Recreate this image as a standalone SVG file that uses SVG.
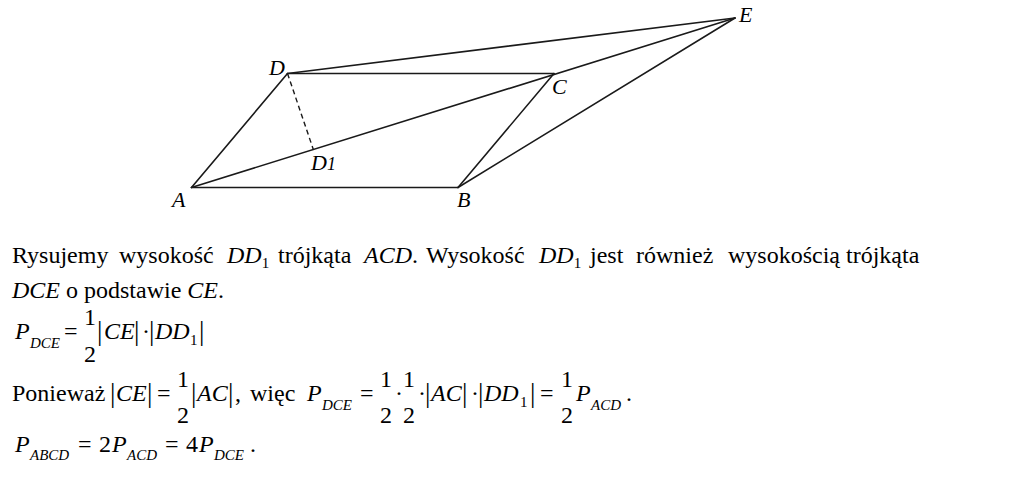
<svg xmlns="http://www.w3.org/2000/svg" width="1026" height="479" viewBox="0 0 1026 479">
<rect width="1026" height="479" fill="#ffffff"/>
<g id="connectors" stroke="#1a1a1a" stroke-width="1.6" fill="none" stroke-linecap="round">
  <line x1="191.5" y1="187.5" x2="458" y2="187.5"/>
  <line x1="191.5" y1="187.5" x2="287.5" y2="73.5"/>
  <line x1="287.5" y1="73.5" x2="554" y2="73.5"/>
  <line x1="458" y1="187.5" x2="554" y2="73.5"/>
  <line x1="191.5" y1="187.5" x2="735" y2="18"/>
  <line x1="287.5" y1="73.5" x2="735" y2="18"/>
  <line x1="458" y1="187.5" x2="735" y2="18"/>
  <line x1="287.5" y1="73.5" x2="313.5" y2="150" stroke-width="1.4" stroke-dasharray="5 3.5" stroke-linecap="butt"/>
</g>
<g id="node-A"><text font-family="Liberation Serif" font-style="italic" font-size="22" x="172" y="207">A</text></g>
<g id="node-B"><text font-family="Liberation Serif" font-style="italic" font-size="22" x="457" y="207">B</text></g>
<g id="node-C"><text font-family="Liberation Serif" font-style="italic" font-size="22" x="552" y="94">C</text></g>
<g id="node-D"><text font-family="Liberation Serif" font-style="italic" font-size="22" x="269" y="75">D</text></g>
<g id="node-E"><text font-family="Liberation Serif" font-style="italic" font-size="22" x="739" y="22">E</text></g>
<g id="node-D1"><text font-family="Liberation Serif" font-style="italic" font-size="22" x="311" y="170">D<tspan font-size="18">1</tspan></text></g>
<g id="text-line1">
  <text font-family="Liberation Serif" font-size="24" x="12" y="263">Rysujemy</text>
  <text font-family="Liberation Serif" font-size="24" x="119" y="263">wysokość</text>
  <text font-family="Liberation Serif" font-size="24" x="227" y="263"><tspan font-style="italic">DD</tspan><tspan font-size="15" dy="5">1</tspan></text>
  <text font-family="Liberation Serif" font-size="24" x="278" y="263">trójkąta</text>
  <text font-family="Liberation Serif" font-size="24" x="364" y="263"><tspan font-style="italic">ACD</tspan>.</text>
  <text font-family="Liberation Serif" font-size="24" x="426" y="263">Wysokość</text>
  <text font-family="Liberation Serif" font-size="24" x="539" y="263"><tspan font-style="italic">DD</tspan><tspan font-size="15" dy="5">1</tspan></text>
  <text font-family="Liberation Serif" font-size="24" x="590" y="263">jest</text>
  <text font-family="Liberation Serif" font-size="24" x="636" y="263">również</text>
  <text font-family="Liberation Serif" font-size="24" x="728" y="263">wysokością</text>
  <text font-family="Liberation Serif" font-size="24" x="846" y="263">trójkąta</text>
</g>
<g id="text-line2">
  <text font-family="Liberation Serif" font-size="24" x="12" y="298"><tspan font-style="italic">DCE</tspan> o podstawie <tspan font-style="italic">CE</tspan>.</text>
</g>
<g id="formula-1">
  <text font-family="Liberation Serif" font-size="24" font-style="italic" x="15" y="339">P</text>
  <text font-family="Liberation Serif" font-size="15" font-style="italic" x="30" y="348">DCE</text>
  <text font-family="Liberation Serif" font-size="24" x="64" y="339">=</text>
  <text font-family="Liberation Serif" font-size="24" x="84" y="325">1</text>
  <text font-family="Liberation Serif" font-size="24" x="84" y="362">2</text>
  <text font-family="Liberation Serif" font-size="27" x="97" y="340">|</text>
  <text font-family="Liberation Serif" font-size="24" font-style="italic" x="104" y="339">CE</text>
  <text font-family="Liberation Serif" font-size="27" x="134" y="340">|</text>
  <text font-family="Liberation Serif" font-size="24" x="142" y="339">·</text>
  <text font-family="Liberation Serif" font-size="27" x="149" y="340">|</text>
  <text font-family="Liberation Serif" font-size="24" font-style="italic" x="155" y="339">DD</text>
  <text font-family="Liberation Serif" font-size="15" x="190" y="345">1</text>
  <text font-family="Liberation Serif" font-size="27" x="199" y="340">|</text>
</g>
<g id="formula-2">
  <text font-family="Liberation Serif" font-size="24" x="12" y="401">Ponieważ</text>
  <text font-family="Liberation Serif" font-size="27" x="110" y="402">|</text>
  <text font-family="Liberation Serif" font-size="24" font-style="italic" x="116" y="401">CE</text>
  <text font-family="Liberation Serif" font-size="27" x="147" y="402">|</text>
  <text font-family="Liberation Serif" font-size="24" x="157" y="401">=</text>
  <text font-family="Liberation Serif" font-size="24" x="177" y="387">1</text>
  <text font-family="Liberation Serif" font-size="24" x="177" y="423">2</text>
  <text font-family="Liberation Serif" font-size="27" x="191" y="402">|</text>
  <text font-family="Liberation Serif" font-size="24" font-style="italic" x="197" y="401">AC</text>
  <text font-family="Liberation Serif" font-size="27" x="228" y="402">|</text>
  <text font-family="Liberation Serif" font-size="24" x="235" y="401">,</text>
  <text font-family="Liberation Serif" font-size="24" x="250" y="401">więc</text>
  <text font-family="Liberation Serif" font-size="24" font-style="italic" x="307" y="401">P</text>
  <text font-family="Liberation Serif" font-size="15" font-style="italic" x="322" y="410">DCE</text>
  <text font-family="Liberation Serif" font-size="24" x="360" y="401">=</text>
  <text font-family="Liberation Serif" font-size="24" x="380" y="387">1</text>
  <text font-family="Liberation Serif" font-size="24" x="380" y="423">2</text>
  <text font-family="Liberation Serif" font-size="24" x="395" y="401">·</text>
  <text font-family="Liberation Serif" font-size="24" x="403" y="387">1</text>
  <text font-family="Liberation Serif" font-size="24" x="403" y="423">2</text>
  <text font-family="Liberation Serif" font-size="24" x="418" y="401">·</text>
  <text font-family="Liberation Serif" font-size="27" x="425" y="402">|</text>
  <text font-family="Liberation Serif" font-size="24" font-style="italic" x="431" y="401">AC</text>
  <text font-family="Liberation Serif" font-size="27" x="462" y="402">|</text>
  <text font-family="Liberation Serif" font-size="24" x="471" y="401">·</text>
  <text font-family="Liberation Serif" font-size="27" x="478" y="402">|</text>
  <text font-family="Liberation Serif" font-size="24" font-style="italic" x="484" y="401">DD</text>
  <text font-family="Liberation Serif" font-size="15" x="520" y="407">1</text>
  <text font-family="Liberation Serif" font-size="27" x="530" y="402">|</text>
  <text font-family="Liberation Serif" font-size="24" x="540" y="401">=</text>
  <text font-family="Liberation Serif" font-size="24" x="561" y="387">1</text>
  <text font-family="Liberation Serif" font-size="24" x="561" y="423">2</text>
  <text font-family="Liberation Serif" font-size="24" font-style="italic" x="576" y="401">P</text>
  <text font-family="Liberation Serif" font-size="15" font-style="italic" x="591" y="410">ACD</text>
  <text font-family="Liberation Serif" font-size="24" x="626" y="401">.</text>
</g>
<g id="formula-3">
  <text font-family="Liberation Serif" font-size="24" font-style="italic" x="15" y="452">P</text>
  <text font-family="Liberation Serif" font-size="15" font-style="italic" x="30" y="460">ABCD</text>
  <text font-family="Liberation Serif" font-size="24" x="78" y="452">=</text>
  <text font-family="Liberation Serif" font-size="24" x="99" y="452">2</text>
  <text font-family="Liberation Serif" font-size="24" font-style="italic" x="112" y="452">P</text>
  <text font-family="Liberation Serif" font-size="15" font-style="italic" x="127" y="460">ACD</text>
  <text font-family="Liberation Serif" font-size="24" x="165" y="452">=</text>
  <text font-family="Liberation Serif" font-size="24" x="186" y="452">4</text>
  <text font-family="Liberation Serif" font-size="24" font-style="italic" x="199" y="452">P</text>
  <text font-family="Liberation Serif" font-size="15" font-style="italic" x="214" y="460">DCE</text>
  <text font-family="Liberation Serif" font-size="24" x="250" y="452">.</text>
</g>
</svg>
